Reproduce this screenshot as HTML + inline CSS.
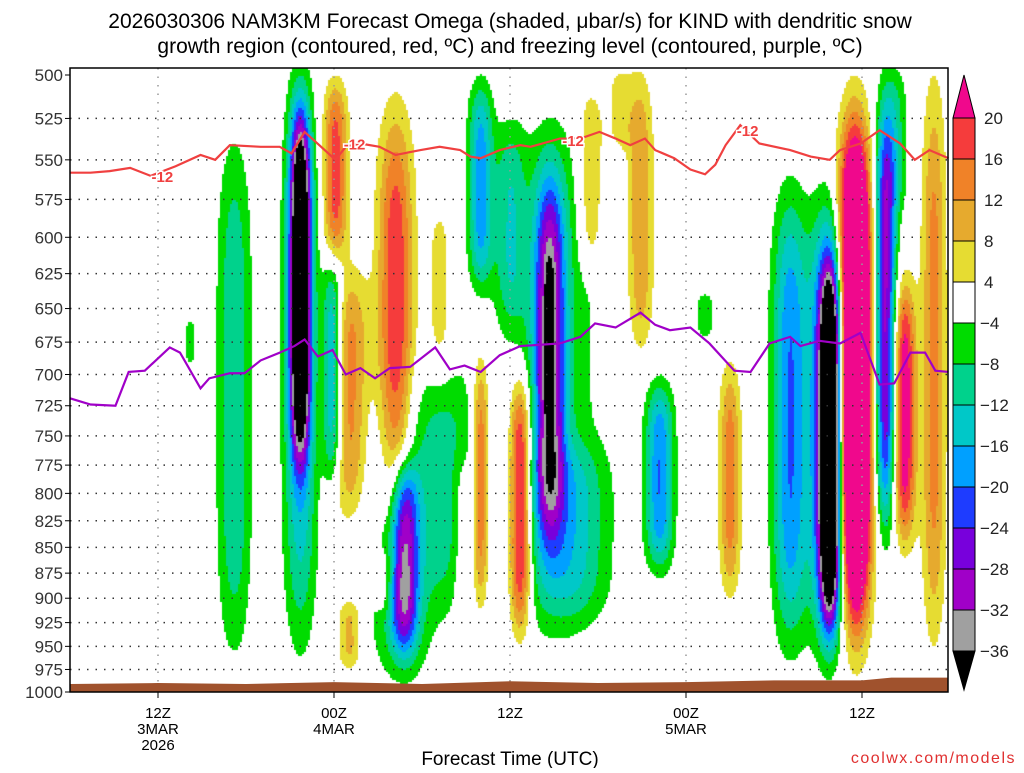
<!DOCTYPE html>
<html><head><meta charset="utf-8"><style>
body{margin:0;background:#fff;width:1024px;height:768px;overflow:hidden;font-family:"Liberation Sans",sans-serif}
svg text{font-family:"Liberation Sans",sans-serif}
</style></head><body>
<svg id="chart" width="1024" height="768" xmlns="http://www.w3.org/2000/svg">
<text x="510" y="28" font-size="21" text-anchor="middle">2026030306 NAM3KM Forecast Omega (shaded, μbar/s) for KIND with dendritic snow</text>
<text x="510" y="53" font-size="21" text-anchor="middle">growth region (contoured, red, ºC) and freezing level (contoured, purple, ºC)</text>
<foreignObject x="70" y="68" width="878" height="624"><canvas xmlns="http://www.w3.org/1999/xhtml" id="cv" width="878" height="624"></canvas></foreignObject>
<g id="grid"></g><g id="lines"></g><g id="axes"></g><g id="cbar"></g>
<text x="510" y="765" font-size="19" text-anchor="middle">Forecast Time (UTC)</text>
<text x="1016" y="763" font-size="16" fill="#e03030" text-anchor="end" letter-spacing="1.5">coolwx.com/models</text>
</svg>
<script>
const levels=[500,525,550,575,600,625,650,675,700,725,750,775,800,825,850,875,900,925,950,975,1000];
const xTickHours=[12,24,36,48,60];
const xTickLabels=[["12Z","3MAR","2026"],["00Z","4MAR"],["12Z"],["00Z","5MAR"],["12Z"]];
// features: hour, pTop, pBot, peak omega, half-width hours
const fHour=[21.7,21.7,17.2,24.1,28.2,31.2,34.0,38.7,38.7,39.0,25.1,23.9,28.8,28.5,31.9,36.7,34.0,40.1,41.5,44.9,46.2,49.3,51.0,55.1,57.8,57.8,59.5,61.6,62.9,64.9,43.5,25.1,27.5,14.2,62.3,36.0,32.8];
const fTop=[500,500,540,500,510,590,500,540,620,540,620,610,760,720,700,690,680,760,510,500,700,640,690,560,600,560,500,500,620,500,500,900,860,660,500,530,780];
const fBot=[800,960,955,620,870,690,640,870,740,920,830,800,975,975,900,955,920,920,620,680,880,670,900,965,965,975,985,860,860,950,540,975,910,690,580,660,900];
const fPeak=[-45,-16,-12,18,20,6,-18,-30,-20,-8,14,-18,-28,-8,-8,26,18,-10,10,12,-20,-6,14,-20,-45,-28,60,-30,24,14,6,10,6,-6,-8,-10,6];
const fWidth=[1.0,1.3,1.2,1.0,1.5,0.5,1.0,1.4,0.3,2.5,1.4,0.8,1.3,2.2,2.0,1.0,0.7,2.5,0.8,0.9,1.2,0.5,0.8,1.5,1.0,1.8,1.7,1.0,1.0,0.9,0.6,0.8,0.4,0.3,0.7,1.0,0.4];
const dgzHours=[6,7.4,8.7,10.1,11.5,13.2,14.9,15.9,16.9,19,20.3,21.1,22,23,24.1,24.8,25.8,27.1,28.2,29.9,31.2,32.6,33.3,34,35.3,36.7,37.4,39.4,40.8,42.1,43.2,44.2,45.2,45.9,47.2,48.3,49.3,50,50.7,51.7,53,55.1,56.5,57.8,58.5,59.9,61.2,62.6,63.6,64.6,65.9];
const dgzP=[558,558,557,555,560,554,547,550,541,542,542,546,533,541,550,542,540,542,547,544,542,544,548,549,544,541,542,537,537,533,537,541,537,544,549,556,559,553,541,529,540,544,548,550,544,540,532,540,550,544,549];
const dgzLabelHours=[12.3,25.4,40.3,52.2];
const dgzLabelP=[560,540,538,532];
const frzHours=[6,7.4,9.1,10,11.1,12.8,13.5,14.9,15.5,16.9,17.9,19,20.3,21.3,22,22.9,23.9,24.8,25.8,26.8,27.8,29.2,30.9,31.9,32.9,34,35.3,36.7,39.4,40.8,41.8,43.2,44.9,45.9,46.9,48.3,49.6,51.3,52.4,53.7,55.1,55.8,57.1,58.5,59.9,61.2,62.2,63.3,64.3,65,65.9];
const frzP=[719,724,725,698,697,679,683,711,703,699,699,689,683,678,673,686,681,700,695,703,695,694,679,696,693,698,685,678,676,671,661,664,653,662,666,664,676,697,698,676,671,678,674,676,668,708,707,683,683,697,698];
const groundHours=[6,12,18,24,30,36,42,48,54,60,62,66];
const groundP=[991,990,991,989,991,988,990,989,987,987,984,984];
const cbarVals=["20","16","12","8","4","-4","-8","-12","-16","-20","-24","-28","-32","-36"];
const binEdges=[20,16,12,8,4,-4,-8,-12,-16,-20,-24,-28,-32,-36];
const binColors=["#f0088c","#f53c3c","#f08228","#e6aa2e","#e6dc32","#ffffff","#00dc00","#00d28c","#00c8c8","#00a0ff","#1e3cff","#7800dc","#a000c8","#a0a0a0","#000000"];

const X0=70,X1=948,Y0=68,Y1=692,YT=75;
const xs=h=>158+(h-12)*176/12;
const ys=p=>YT+(Y1-YT)*Math.log2(p/500);
const NS='http://www.w3.org/2000/svg';
function mk(tag,attrs,parent){const e=document.createElementNS(NS,tag);for(const k in attrs)e.setAttribute(k,attrs[k]);parent.appendChild(e);return e;}
function colorOf(v){for(let i=0;i<binEdges.length;i++){if(v>=binEdges[i])return binColors[i];}return binColors[binColors.length-1];}

// shading
const cv=document.getElementById('cv'),ctx=cv.getContext('2d');
const cell=2;
for(let py=0;py<624;py+=cell){const y=Y0+py+1;
 for(let px=0;px<878;px+=cell){const x=X0+px+1;let v=0;
  for(let i=0;i<fHour.length;i++){
   const cx=xs(fHour[i]),hw=fWidth[i]*176/12;const dx=(x-cx)/hw;if(Math.abs(dx)>3)continue;
   const yt=ys(fTop[i]),yb=ys(fBot[i]);const yc=(yt+yb)/2,hy=Math.max((yb-yt)/2,4);const dy=(y-yc)/hy;
   const L=Math.log(Math.abs(fPeak[i])/4);
   v+=fPeak[i]*Math.exp(-L*(dx*dx+Math.pow(dy,4)));}
  ctx.fillStyle=colorOf(v);ctx.fillRect(px,py,cell,cell);}}

// ground
const gp=[[xs(groundHours[0]),Y1]];for(let i=0;i<groundHours.length;i++)gp.push([xs(groundHours[i]),ys(groundP[i])]);gp.push([X1,ys(groundP[groundP.length-1])],[X1,Y1]);
const grd=mk('polygon',{points:gp.map(p=>p.join(',')).join(' '),fill:'#a0522d'},document.getElementById('lines'));



// grid
const G=document.getElementById('grid');
levels.forEach(p=>{if(p===500||p===1000)return;const l=mk('line',{x1:X0,x2:X1,y1:ys(p),y2:ys(p),stroke:'#333','stroke-width':1.5,'stroke-dasharray':'1.5,7'},G);

});
xTickHours.forEach(h=>{const l=mk('line',{x1:xs(h),x2:xs(h),y1:Y0,y2:Y1,stroke:'#999','stroke-width':1.5,'stroke-dasharray':'1.5,7'},G);

});

// lines
const Ls=document.getElementById('lines');
const red=mk('polyline',{points:dgzHours.map((h,i)=>xs(h)+','+ys(dgzP[i])).join(' '),fill:'none',stroke:'#f04040','stroke-width':2.2},Ls);


dgzLabelHours.forEach((h,i)=>{const t=mk('text',{x:xs(h),y:ys(dgzLabelP[i])+6,'font-size':15,'font-weight':'bold',fill:'#f04040','text-anchor':'middle',stroke:'#fff','stroke-width':3,'paint-order':'stroke'},Ls);t.textContent='-12';

});
const pur=mk('polyline',{points:frzHours.map((h,i)=>xs(h)+','+ys(frzP[i])).join(' '),fill:'none',stroke:'#a000c8','stroke-width':2.2},Ls);



// axes
const A=document.getElementById('axes');
const fr=mk('rect',{x:X0,y:Y0,width:X1-X0,height:Y1-Y0,fill:'none',stroke:'#000','stroke-width':1.5},A);


levels.forEach(p=>{const t=mk('text',{x:63,y:ys(p)+6,'font-size':17,'text-anchor':'end',fill:'#333'},A);t.textContent=p;


mk('line',{x1:X0-5,x2:X0,y1:ys(p),y2:ys(p),stroke:'#000'},A);});
xTickHours.forEach((h,i)=>{mk('line',{x1:xs(h),x2:xs(h),y1:Y1,y2:Y1+6,stroke:'#000'},A);
 xTickLabels[i].forEach((s,j)=>{const t=mk('text',{x:xs(h),y:718+j*16,'font-size':15,'text-anchor':'middle'},A);t.textContent=s;
 
 });});

// colorbar
const C=document.getElementById('cbar');const bx=953,bw=22,b0=118,bh=41;
const tt=mk('polygon',{points:`${bx},${b0} ${bx+bw},${b0} ${bx+bw/2},75`,fill:binColors[0],stroke:'#000'},C);


for(let i=1;i<binColors.length-1;i++){const r=mk('rect',{x:bx,y:b0+(i-1)*bh,width:bw,height:bh,fill:binColors[i],stroke:'#000'},C);

}
const yb=b0+(binColors.length-2)*bh;
const bt=mk('polygon',{points:`${bx},${yb} ${bx+bw},${yb} ${bx+bw/2},690`,fill:'#000',stroke:'#000'},C);


cbarVals.forEach((s,i)=>{const t=mk('text',{x:s[0]==='-'?980:984,y:b0+i*bh+6,'font-size':17,fill:'#222'},C);t.textContent=s.replace('-','−');

});
</script>
</body></html>
